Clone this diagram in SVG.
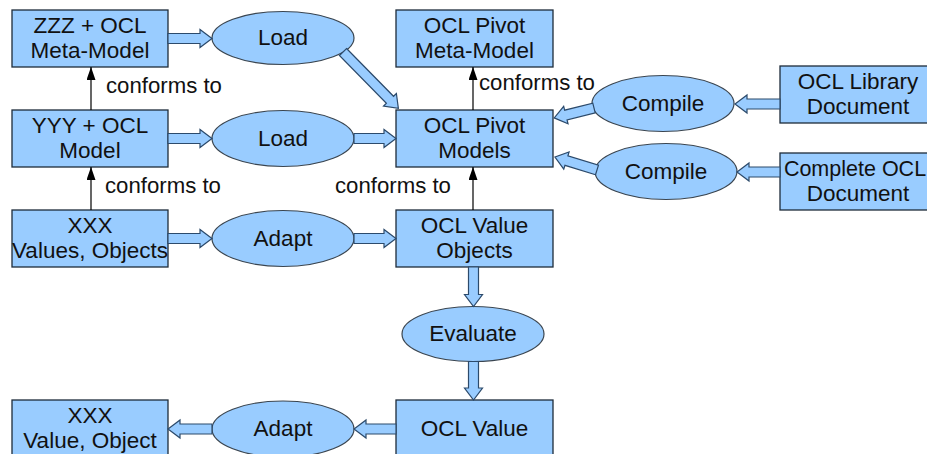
<svg xmlns="http://www.w3.org/2000/svg" width="927" height="454" viewBox="0 0 927 454">
<defs>
<style>
.box{fill:#99ccff;stroke:#1e2c3a;stroke-width:1.3}
.ell{fill:#99ccff;stroke:#3a4550;stroke-width:1.2}
.t{font-family:"Liberation Sans",Arial,sans-serif;font-size:22.5px;fill:#111;text-anchor:middle}
.lbl{font-family:"Liberation Sans",Arial,sans-serif;font-size:22.2px;fill:#111}
.blk{fill:#99ccff;stroke:#2c4a6b;stroke-width:1.2;stroke-linejoin:miter}
.cf{stroke:#000;stroke-width:1.2;fill:none;marker-end:url(#ah)}
</style>
<marker id="ah" markerUnits="userSpaceOnUse" markerWidth="13" markerHeight="9" viewBox="0 0 13 9" refX="13" refY="4.5" orient="auto">
<path d="M0,0 L13,4.5 L0,9 z" fill="#000"/>
</marker>
</defs>
<rect width="927" height="454" fill="#fff"/>

<g id="zzz"><rect class="box" x="12" y="10" width="156" height="57"/><text class="t" x="90" y="33">ZZZ + OCL</text><text class="t" x="90" y="57.5">Meta-Model</text></g>
<g id="load1"><ellipse class="ell" cx="283" cy="38" rx="71" ry="26.5"/><text class="t" x="283" y="45">Load</text></g>
<g id="pivotmeta"><rect class="box" x="396" y="10" width="157" height="57"/><text class="t" x="474.5" y="33">OCL Pivot</text><text class="t" x="474.5" y="57.5">Meta-Model</text></g>
<g id="yyy"><rect class="box" x="12" y="110" width="156" height="57"/><text class="t" x="90" y="133">YYY + OCL</text><text class="t" x="90" y="157.5">Model</text></g>
<g id="load2"><ellipse class="ell" cx="283" cy="138.5" rx="71" ry="28"/><text class="t" x="283" y="145.5">Load</text></g>
<g id="pivotmodels"><rect class="box" x="396" y="110" width="157" height="57"/><text class="t" x="474.5" y="133">OCL Pivot</text><text class="t" x="474.5" y="157.5">Models</text></g>
<g id="compile1"><ellipse class="ell" cx="663" cy="103.5" rx="71" ry="28"/><text class="t" x="663" y="111">Compile</text></g>
<g id="library"><rect class="box" x="780" y="66" width="156" height="57"/><text class="t" x="858" y="89">OCL Library</text><text class="t" x="858" y="113.5">Document</text></g>
<g id="compile2"><ellipse class="ell" cx="666" cy="171.5" rx="71" ry="28"/><text class="t" x="666" y="179">Compile</text></g>
<g id="complete"><rect class="box" x="780" y="153" width="156" height="57"/><text class="t" x="855" y="176" style="font-size:21.5px">Complete OCL</text><text class="t" x="858" y="200.5">Document</text></g>
<g id="xxxvalues"><rect class="box" x="12" y="210" width="156" height="57"/><text class="t" x="90" y="233">XXX</text><text class="t" x="90" y="257.5">Values, Objects</text></g>
<g id="adapt1"><ellipse class="ell" cx="283" cy="238.5" rx="71" ry="28"/><text class="t" x="283" y="245.5">Adapt</text></g>
<g id="valueobjects"><rect class="box" x="396" y="210" width="157" height="57"/><text class="t" x="474.5" y="233">OCL Value</text><text class="t" x="474.5" y="257.5">Objects</text></g>
<g id="evaluate"><ellipse class="ell" cx="473" cy="334" rx="71" ry="27.5"/><text class="t" x="473" y="341">Evaluate</text></g>
<g id="xxxvalue"><rect class="box" x="12" y="400" width="156" height="57"/><text class="t" x="90" y="423">XXX</text><text class="t" x="90" y="447.5">Value, Object</text></g>
<g id="adapt2"><ellipse class="ell" cx="283" cy="429" rx="71" ry="28"/><text class="t" x="283" y="436">Adapt</text></g>
<g id="oclvalue"><rect class="box" x="396" y="400" width="157" height="57"/><text class="t" x="474.5" y="436">OCL Value</text></g>

<g id="connectors">
<line class="cf" x1="91" y1="110" x2="91" y2="67"/>
<line class="cf" x1="91" y1="210" x2="91" y2="167"/>
<line class="cf" x1="473" y1="110" x2="473" y2="67"/>
<line class="cf" x1="473" y1="210" x2="473" y2="167"/>
<text class="lbl" x="106" y="93">conforms to</text>
<text class="lbl" x="105" y="193">conforms to</text>
<text class="lbl" x="479" y="90">conforms to</text>
<text class="lbl" x="335" y="193">conforms to</text>

<polygon class="blk" transform="translate(168,38.5)" points="0,-5 32,-5 32,-9 44,0 32,9 32,5 0,5"/>
<polygon class="blk" transform="translate(343,52) rotate(45.5)" points="0,-5 67,-5 67,-9 79,0 67,9 67,5 0,5"/>
<polygon class="blk" transform="translate(168,138.5)" points="0,-5 32,-5 32,-9 44,0 32,9 32,5 0,5"/>
<polygon class="blk" transform="translate(354,138.5)" points="0,-5 30,-5 30,-9 42,0 30,9 30,5 0,5"/>
<polygon class="blk" transform="translate(168,238.5)" points="0,-5 32,-5 32,-9 44,0 32,9 32,5 0,5"/>
<polygon class="blk" transform="translate(354,238.5)" points="0,-5 30,-5 30,-9 42,0 30,9 30,5 0,5"/>
<polygon class="blk" transform="translate(473.5,267) rotate(90)" points="0,-5 27.5,-5 27.5,-9 39.5,0 27.5,9 27.5,5 0,5"/>
<polygon class="blk" transform="translate(473.5,361.5) rotate(90)" points="0,-5 26.5,-5 26.5,-9 38.5,0 26.5,9 26.5,5 0,5"/>
<polygon class="blk" transform="translate(396,429) rotate(180)" points="0,-5 30,-5 30,-9 42,0 30,9 30,5 0,5"/>
<polygon class="blk" transform="translate(212,429) rotate(180)" points="0,-5 32,-5 32,-9 44,0 32,9 32,5 0,5"/>
<polygon class="blk" transform="translate(780,104) rotate(180)" points="0,-5 33,-5 33,-9 45,0 33,9 33,5 0,5"/>
<polygon class="blk" transform="translate(780,172) rotate(180)" points="0,-5 31,-5 31,-9 43,0 31,9 31,5 0,5"/>
<polygon class="blk" transform="translate(594,108) rotate(166)" points="0,-5 29,-5 29,-9 41,0 29,9 29,5 0,5"/>
<polygon class="blk" transform="translate(597,170) rotate(197.2)" points="0,-5 32,-5 32,-9 44,0 32,9 32,5 0,5"/>
</g>
</svg>
